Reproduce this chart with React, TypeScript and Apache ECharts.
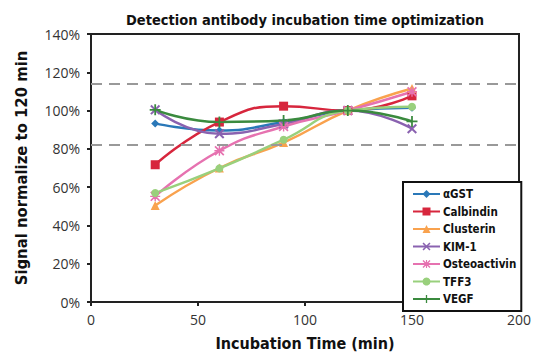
import React, { useEffect, useRef } from "react";
import * as echarts from "echarts";

const times = [30, 60, 90, 120, 150];
const seriesNames = ["αGST", "Calbindin", "Clusterin", "KIM-1", "Osteoactivin", "TFF3", "VEGF"];
const agst = [93.3, 89.6, 94, 100, 101.5];
const calbindin = [71.7, 94, 102.3, 100, 107.7];
const clusterin = [50.4, 70, 83.3, 100, 111.5];
const kim1 = [100.4, 87.9, 93, 100, 90.5];
const osteoactivin = [55.2, 79, 91.7, 100, 109.8];
const tff3 = [56.9, 69.8, 84.8, 100, 102];
const vegf = [100.4, 94, 94.8, 100, 94.3];
const refLines = [114, 82];
const xTicks = [0, 200, 50];
const yTicks = [0, 140, 20];

const X_PATH = "path://M0,1.4L1.4,0L5,3.6L8.6,0L10,1.4L6.4,5L10,8.6L8.6,10L5,6.4L1.4,10L0,8.6L3.6,5Z";
const PLUS_PATH = "path://M4.2,0H5.8V4.2H10V5.8H5.8V10H4.2V5.8H0V4.2H4.2Z";
const STAR_PATH =
  "path://M4.3,0H5.7V4.3H10V5.7H5.7V10H4.3V5.7H0V4.3H4.3Z M0,1.2L1.2,0L5,3.8L8.8,0L10,1.2L6.2,5L10,8.8L8.8,10L5,6.2L1.2,10L0,8.8L3.8,5Z";

const NARROW = "'Liberation Sans Narrow', 'DejaVu Sans Condensed', 'Open Sans', sans-serif";

export default function App() {
  const ref = useRef<HTMLDivElement>(null);
  useEffect(() => {
    if (!ref.current) return;
    const chart = echarts.init(ref.current, null, { renderer: "svg" });
    const mk = (name: string, data: number[], color: string, symbol: string, size: number) => ({
      name,
      type: "line",
      smooth: true,
      data: times.map((t, i) => [t, data[i]]),
      symbol,
      symbolSize: size,
      showAllSymbol: true,
      lineStyle: { color, width: 2.5 },
      itemStyle: { color, borderWidth: 0 },
      emphasis: { disabled: true },
    });
    chart.setOption({
      animation: false,
      title: {
        text: "Detection antibody incubation time optimization",
        left: 300,
        textAlign: "center",
        top: 7,
        textStyle: { fontFamily: NARROW, fontSize: 14.5, fontWeight: "bold", color: "#111" },
      },
      grid: {
        left: 91,
        right: 12.5,
        top: 34,
        bottom: 54,
        show: true,
        borderColor: "#222",
        borderWidth: 2,
        backgroundColor: "transparent",
      },
      legend: {
        data: seriesNames,
        orient: "vertical",
        left: 403,
        top: 182,
        itemWidth: 27,
        itemHeight: 10,
        itemGap: 5.5,
        padding: [6, 5, 6, 9],
        borderColor: "#111",
        borderWidth: 2,
        backgroundColor: "#fff",
        textStyle: { fontFamily: NARROW, fontSize: 11.5, fontWeight: "bold", color: "#111", padding: [0, 0, 0, -2] },
      },
      xAxis: {
        type: "value",
        min: xTicks[0],
        max: xTicks[1],
        interval: xTicks[2],
        name: "Incubation Time (min)",
        nameLocation: "middle",
        nameGap: 33,
        nameTextStyle: { fontFamily: NARROW, fontSize: 16, fontWeight: "bold", color: "#111" },
        axisLine: { lineStyle: { color: "#222", width: 2 } },
        axisTick: { show: true, length: 4, lineStyle: { color: "#222", width: 2 } },
        axisLabel: { fontFamily: "'Open Sans', sans-serif", fontSize: 14, color: "#333", margin: 10 },
        splitLine: { show: false },
      },
      yAxis: {
        type: "value",
        min: yTicks[0],
        max: yTicks[1],
        interval: yTicks[2],
        name: "Signal normalize to 120 min",
        nameLocation: "middle",
        nameGap: 61,
        nameTextStyle: { fontFamily: NARROW, fontSize: 16.5, fontWeight: "bold", color: "#111" },
        axisLine: { show: true, lineStyle: { color: "#222", width: 2 } },
        axisTick: { show: true, length: 4, lineStyle: { color: "#222", width: 2 } },
        axisLabel: { fontFamily: "'Open Sans', sans-serif", fontSize: 14, color: "#333", margin: 11, formatter: "{value}%" },
        splitLine: { show: false },
      },
      series: [
        {
          name: "ref",
          type: "line",
          data: [],
          silent: true,
          z: 1,
          markLine: {
            silent: true,
            symbol: "none",
            label: { show: false },
            lineStyle: { color: "#999", width: 2, type: [11, 7] },
            data: refLines.map((v) => ({ yAxis: v })),
          },
        },
        mk("αGST", agst, "#2a78b8", "diamond", 8),
        mk("Calbindin", calbindin, "#d7263d", "rect", 9),
        mk("Clusterin", clusterin, "#f9a24e", "triangle", 9),
        mk("KIM-1", kim1, "#8a62b0", X_PATH, 10),
        mk("Osteoactivin", osteoactivin, "#e672b0", STAR_PATH, 10),
        mk("TFF3", tff3, "#99d07c", "circle", 8),
        mk("VEGF", vegf, "#3a8a3e", PLUS_PATH, 11),
      ],
    });
    return () => chart.dispose();
  }, []);
  return <div ref={ref} style={{ width: 534, height: 356, position: "absolute", left: 0, top: 0 }} />;
}
